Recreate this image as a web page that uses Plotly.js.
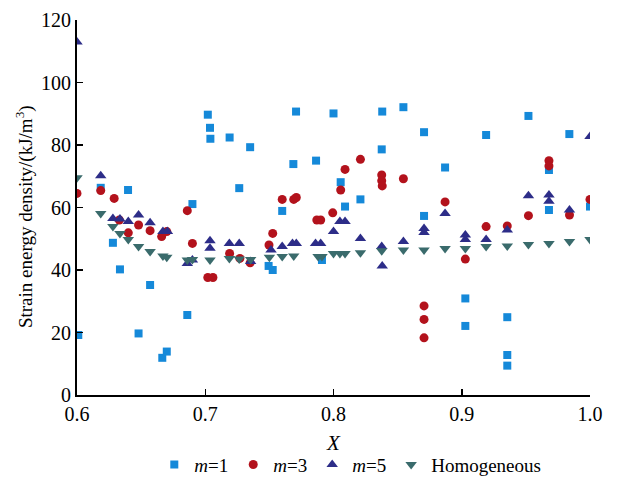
<!DOCTYPE html>
<html>
<head>
<meta charset="utf-8">
<script src="https://cdn.plot.ly/plotly-3.0.1.min.js"></script>
<style>html,body{margin:0;padding:0;background:#fff;}#chart{width:620px;height:482px;}</style>
</head>
<body>
<div id="chart"></div>
<script>
// m = 1 (squares)
const m1X = [0.601,0.6185,0.628,0.6335,0.6398,0.648,0.657,0.6665,0.670,0.686,0.690,0.702,0.7037,0.704,0.719,0.7265,0.735,0.7494,0.7526,0.760,0.7687,0.7708,0.7864,0.791,0.800,0.8056,0.809,0.821,0.8376,0.838,0.8545,0.8706,0.8706,0.887,0.9028,0.9028,0.919,0.9355,0.9355,0.9355,0.952,0.968,0.968,0.9839,1.0];
const m1Y = [19.2,66.3,48.7,40.2,65.6,19.7,35.2,11.9,13.9,25.6,61.1,89.7,85.5,82.0,82.4,66.2,79.3,41.3,40.0,58.9,73.9,90.7,75.0,43.2,90.1,68.1,60.3,62.6,78.6,90.7,92.1,84.1,57.3,72.8,30.9,22.1,83.2,24.9,12.8,9.4,89.3,72.0,59.2,83.5,60.3];
// m = 3 (circles)
const m3X = [0.600,0.6185,0.629,0.633,0.640,0.648,0.657,0.666,0.670,0.686,0.690,0.702,0.706,0.719,0.727,0.735,0.7497,0.7526,0.760,0.769,0.771,0.787,0.790,0.7994,0.8056,0.809,0.821,0.8376,0.8376,0.838,0.8545,0.8706,0.8706,0.8706,0.887,0.9028,0.919,0.9355,0.952,0.968,0.968,0.984,1.0];
const m3Y = [64.5,65.4,62.9,56.0,51.9,54.4,52.6,50.7,52.3,59.0,48.5,37.6,37.6,45.3,43.7,42.3,48.0,51.7,62.6,62.6,63.2,56.0,56.0,58.3,65.6,72.2,75.4,70.4,68.6,66.9,69.2,28.5,24.2,18.3,61.8,43.5,53.9,54.1,57.4,75.0,73.3,57.6,62.6];
// m = 5 (triangles up)
const m5X = [0.600,0.6185,0.628,0.6335,0.640,0.648,0.657,0.667,0.6705,0.686,0.690,0.7037,0.7037,0.7188,0.7265,0.7354,0.7513,0.760,0.768,0.771,0.786,0.790,0.800,0.805,0.809,0.821,0.8376,0.838,0.8545,0.8706,0.8706,0.887,0.9028,0.9028,0.919,0.9355,0.952,0.968,0.968,0.984,1.0];
const m5Y = [113.0,70.2,56.5,56.3,55.5,57.6,55.1,52.3,52.3,42.1,43.2,49.4,47.0,48.5,48.5,42.7,46.4,47.5,48.5,48.5,48.5,48.5,52.3,55.5,55.5,50.1,47.5,41.3,49.1,53.3,52.0,58.1,51.2,49.8,49.8,52.8,63.8,64.0,62.0,59.2,82.7];
// Homogeneous (triangles down)
const hoX = [0.600,0.6185,0.628,0.6335,0.640,0.648,0.657,0.667,0.670,0.686,0.690,0.7037,0.7188,0.7265,0.7354,0.750,0.760,0.769,0.788,0.791,0.800,0.805,0.809,0.821,0.8376,0.8545,0.8706,0.887,0.9028,0.919,0.9355,0.952,0.968,0.984,1.0];
const hoY = [69.5,58.1,53.9,51.7,49.8,47.5,45.9,44.5,44.1,43.2,43.4,43.2,43.7,43.5,43.4,44.1,44.3,44.5,44.3,44.3,45.3,45.3,45.3,45.5,46.2,46.4,46.4,46.9,46.9,47.5,47.7,48.2,48.5,49.1,49.8];

const seriesNames = ['<i>m</i>=1','<i>m</i>=3','<i>m</i>=5','Homogeneous'];
const xTicks = [0.6,0.7,0.8,0.9,1.0];
const xTickText = ['0.6','0.7','0.8','0.9','1.0'];
const yTicks = [0,20,40,60,80,100,120];
const yTitle = 'Strain energy density/(kJ/m<sup>3</sup>)';
const xTitle = '<i>X</i>';

const FONT = 'Liberation Serif, Times New Roman, serif';

const traces = [
  {x:m1X,y:m1Y,name:seriesNames[0],type:'scatter',mode:'markers',
   marker:{symbol:'square',size:8,color:'#1589d9',line:{width:0}}},
  {x:m3X,y:m3Y,name:seriesNames[1],type:'scatter',mode:'markers',
   marker:{symbol:'circle',size:9,color:'#b3121c',line:{width:0}}},
  {x:m5X,y:m5Y,name:seriesNames[2],type:'scatter',mode:'markers',
   marker:{symbol:'triangle-up',size:10,color:'#2d2d88',line:{width:0}}},
  {x:hoX,y:hoY,name:seriesNames[3],type:'scatter',mode:'markers',
   marker:{symbol:'triangle-down',size:10,color:'#3a6b6c',line:{width:0}}}
];

const layout = {
  width:620,height:482,
  paper_bgcolor:'#fff',plot_bgcolor:'#fff',
  margin:{l:77,r:30,t:20,b:87,autoexpand:false},
  font:{family:FONT,size:20,color:'#000'},
  showlegend:true,
  legend:{orientation:'h',x:0.565,xanchor:'center',xref:'container',
          y:0.036,yanchor:'middle',yref:'container',
          font:{family:FONT,size:19,color:'#000'},itemsizing:'trace',
          itemwidth:30,tracegroupgap:0,bgcolor:'rgba(0,0,0,0)'},
  xaxis:{range:[0.6,1.0],tickvals:xTicks,ticktext:xTickText,
         ticks:'inside',ticklen:6,tickwidth:1.5,tickcolor:'#000',
         showline:true,linecolor:'#000',linewidth:2,mirror:false,
         showgrid:false,zeroline:false,
         tickfont:{family:FONT,size:20,color:'#000'}},
  yaxis:{range:[0,120],tickvals:yTicks,
         ticks:'inside',ticklen:6,tickwidth:1.5,tickcolor:'#000',
         showline:true,linecolor:'#000',linewidth:2,
         showgrid:false,zeroline:false,
         tickfont:{family:FONT,size:20,color:'#000'}},
  annotations:[
    {text:yTitle,xref:'paper',yref:'paper',x:-0.101,y:0.475,
     xanchor:'center',yanchor:'middle',textangle:-90,showarrow:false,
     font:{family:FONT,size:19,color:'#000'}},
    {text:xTitle,xref:'paper',yref:'paper',x:0.5,y:-0.128,
     xanchor:'center',yanchor:'middle',showarrow:false,
     font:{family:FONT,size:21,color:'#000'}}
  ]
};

Plotly.newPlot('chart',traces,layout,{displayModeBar:false,staticPlot:true});
</script>
</body>
</html>
